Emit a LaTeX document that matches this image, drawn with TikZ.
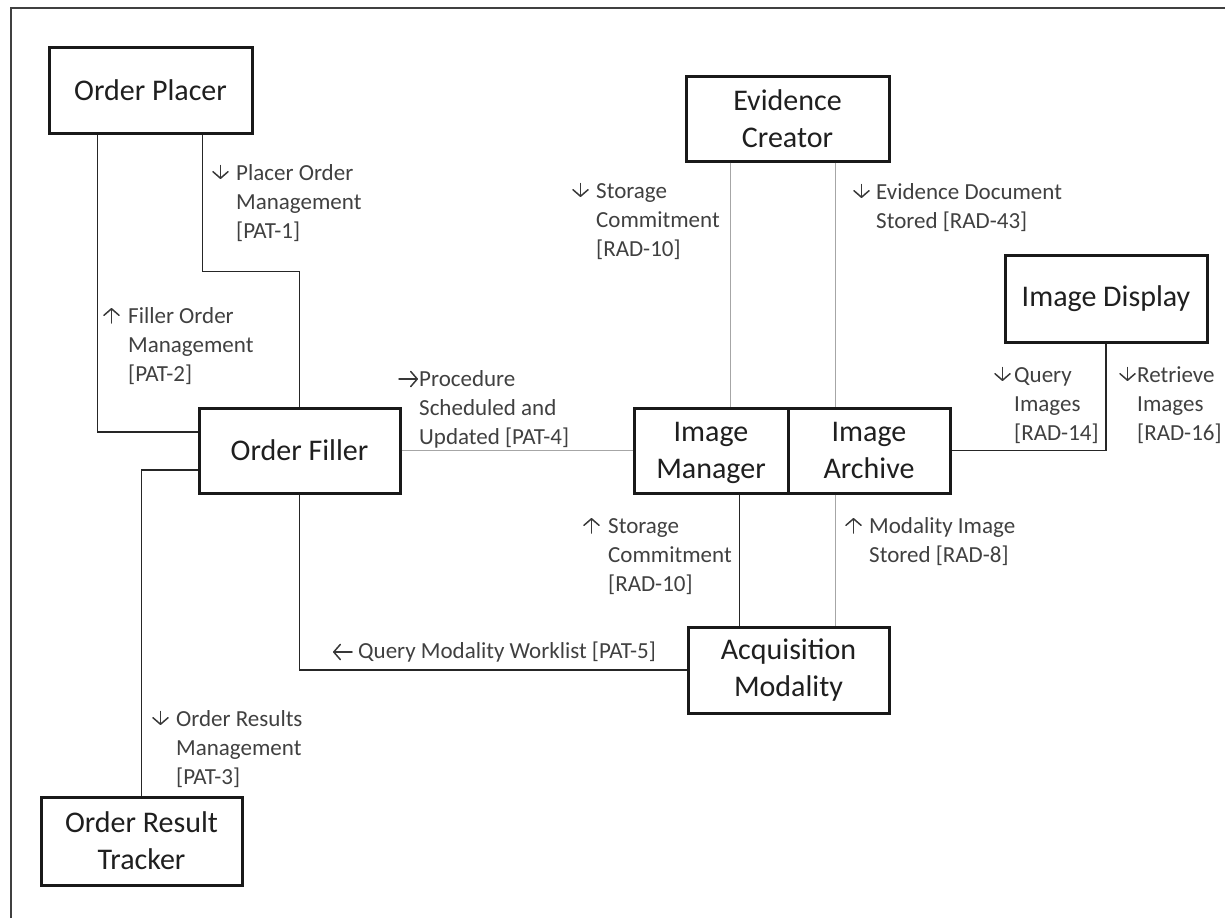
\documentclass[tikz,border=0pt]{standalone}
\usepackage{fontspec}
\usetikzlibrary{arrows.meta}
\setmainfont{Carlito}
\newcommand\tlab[2]{\begin{tabular}[t]{@{}l@{}l@{}}\hspace*{#1}&#2\end{tabular}}
% small arrows beside the labels
\newcommand\DnArr[1]{\draw[garr] ([shift={(8.5,-14.5)}]#1.base west) -- ([shift={(8.5,-1)}]#1.base west);}
\newcommand\UpArr[1]{\draw[garr] ([shift={(8.5,0)}]#1.base west) -- ([shift={(8.5,-15)}]#1.base west);}
\newcommand\RtArr[1]{\draw[garr] ([shift={(0,-7)}]#1.base west) -- ([shift={(19,-7)}]#1.base west);}
\newcommand\LtArr[1]{\draw[garr] ([shift={(20,-6)}]#1.base west) -- ([shift={(1,-6)}]#1.base west);}
\begin{document}
\begin{tikzpicture}[x=1pt,y=-1pt,
  box/.style={draw=black!90, line width=3pt, fill=white, inner sep=0pt, align=center,
    font=\fontsize{30}{37}\selectfont, text=black!88},
  conn/.style={draw=black!85, line width=1.5pt},
  gconn/.style={draw=black!35, line width=1.8pt},
  lbl/.style={inner sep=0pt, anchor=base west, text=black!75, font=\fontsize{23}{29}\selectfont},
  garr/.style={draw=black!78, line width=1.5pt, line cap=round,
    -{Straight Barb[length=6.5pt, width=15pt, line width=1.5pt, round]}}]
\useasboundingbox (0,0) rectangle (1225,918);
% frame
\draw[line width=2pt, black!75] (11,918) -- (11,8) -- (1225,8);

% actors
\node[box, minimum width=203pt, minimum height=86pt] (OP) at (150.5,90) {Order Placer};
\node[box, minimum width=201pt, minimum height=85pt] (OF) at (299.5,450.5) {Order Filler};
\node[box, minimum width=201pt, minimum height=88pt] (ORT) at (141.5,841) {Order Result\\Tracker};
\node[box, minimum width=203pt, minimum height=85pt] (EC) at (787.5,118.5) {Evidence\\Creator};
\node[box, minimum width=202pt, minimum height=87pt] (ID) at (1106,298.5) {Image Display};
\node[box, minimum width=154pt, minimum height=85pt] (IM) at (711,450.5) {Image\\\raisebox{0pt}[\height][0pt]{Manager}};
\node[box, minimum width=162pt, minimum height=85pt] (IA) at (869,450.5) {Image\\Archive};
\node[box, minimum width=201pt, minimum height=86pt] (AM) at (788.5,670) {Acquisition\\Modality};

% connectors
\draw[conn] ([xshift=50pt]OP.south west) |- ([yshift=18.5pt]OF.west);
\draw[conn] ([xshift=155pt]OP.south west) -- ++(0,137) -| (OF.north);
\draw[conn] ([yshift=-19.5pt]OF.west) -| (ORT.north);
\draw[conn] (OF.south) |- (AM.west);
\draw[gconn] (OF.east) -- (IM.west);
\draw[gconn] ([xshift=46pt]EC.south west) -- ([xshift=46pt]EC.south west |- IM.north);
\draw[gconn] ([xshift=151pt]EC.south west) -- ([xshift=151pt]EC.south west |- IA.north);
\draw[conn] ([xshift=107pt]IM.south west) -- ([xshift=107pt]IM.south west |- AM.north);
\draw[gconn] ([xshift=49pt]IA.south west) -- ([xshift=49pt]IA.south west |- AM.north);
\draw[conn] (ID.south) |- (IA.east);

% labels
\node[lbl] (lPAT1) at (212,180) {\tlab{24pt}{Placer Order\\&Management\\&[PAT-1]}};
\node[lbl] (lPAT2) at (103,323) {\tlab{25pt}{Filler Order\\&Management\\&[PAT-2]}};
\node[lbl] (lRADa) at (572,198) {\tlab{24pt}{Storage\\&Commitment\\&[RAD-10]}};
\node[lbl] (lRAD43) at (853,199) {\tlab{23pt}{Evidence Document\\&Stored [RAD-43]}};
\node[lbl] (lPAT4) at (399,386) {\tlab{20pt}{Procedure\\&Scheduled and\\&Updated [PAT-4]}};
\node[lbl] (lRADb) at (583,533) {\tlab{25pt}{Storage\\&Commitment\\&[RAD-10]}};
\node[lbl] (lRAD8) at (845,533) {\tlab{24pt}{Modality Image\\&Stored [RAD-8]}};
\node[lbl] (lRAD14) at (994,382) {\tlab{20pt}{Query\\&Images\\&[RAD-14]}};
\node[lbl] (lRAD16) at (1119,382) {\tlab{18pt}{Retrieve\\&Images\\&[RAD-16]}};
\node[lbl] (lPAT5) at (332,658) {\tlab{26pt}{Query Modality Worklist [PAT-5]}};
\node[lbl] (lPAT3) at (152,726) {\tlab{24pt}{Order Results\\&Management\\&[PAT-3]}};

% label arrows
\DnArr{lPAT1}
\UpArr{lPAT2}
\DnArr{lRADa}
\DnArr{lRAD43}
\RtArr{lPAT4}
\UpArr{lRADb}
\UpArr{lRAD8}
\DnArr{lRAD14}
\DnArr{lRAD16}
\LtArr{lPAT5}
\DnArr{lPAT3}
\end{tikzpicture}
\end{document}
